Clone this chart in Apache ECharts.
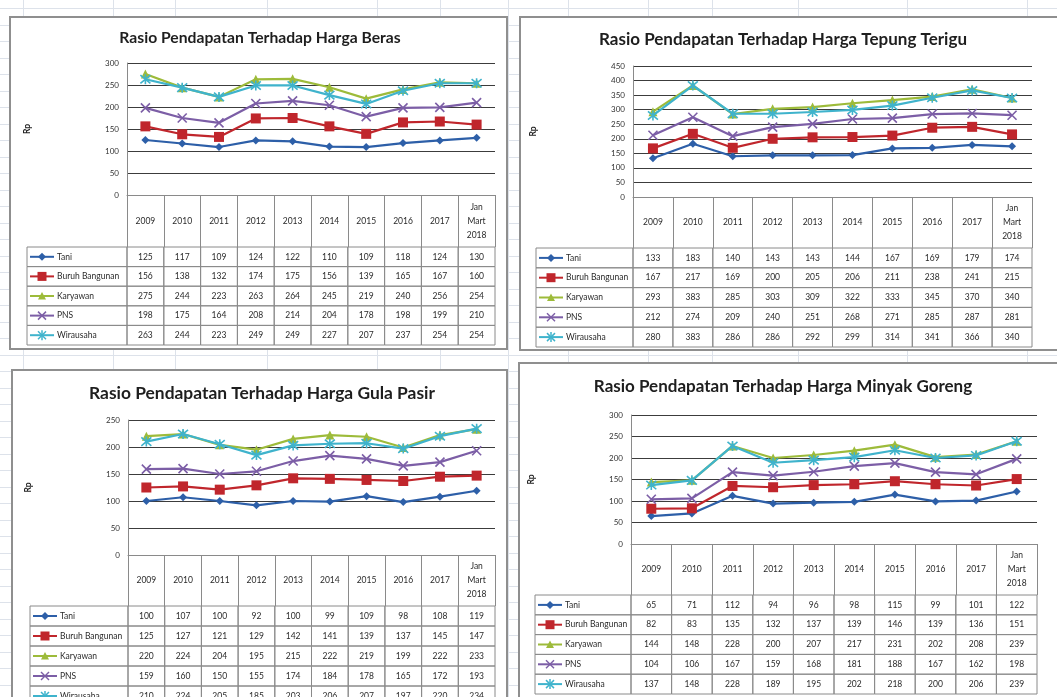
<!DOCTYPE html>
<html><head><meta charset="utf-8">
<script src="https://cdn.jsdelivr.net/npm/echarts@6/dist/echarts.min.js"></script>
<style>
html,body{margin:0;padding:0;background:#fff;overflow:hidden;}
#bg{position:absolute;left:0;top:0;width:1057px;height:697px;overflow:hidden;}
#chart{position:absolute;left:0;top:0;width:1057px;height:697px;}
.hl{position:absolute;left:0;width:1057px;height:1px;background:#dde2ea;}
.vl{position:absolute;top:0;height:697px;width:1px;background:#dde2ea;}
</style></head><body>
<div id="bg"></div>
<div id="chart"></div>
<script>
// ---------- DATA ----------
const categories = ['2009','2010','2011','2012','2013','2014','2015','2016','2017','Jan\nMart\n2018'];
const seriesNames = ['Tani','Buruh Bangunan','Karyawan','PNS','Wirausaha'];

const titleBeras = 'Rasio Pendapatan Terhadap Harga Beras';
const berasTani      = [125,117,109,124,122,110,109,118,124,130];
const berasBuruh     = [156,138,132,174,175,156,139,165,167,160];
const berasKaryawan  = [275,244,223,263,264,245,219,240,256,254];
const berasPNS       = [198,175,164,208,214,204,178,198,199,210];
const berasWirausaha = [263,244,223,249,249,227,207,237,254,254];

const titleTepung = 'Rasio Pendapatan Terhadap Harga Tepung Terigu';
const tepungTani      = [133,183,140,143,143,144,167,169,179,174];
const tepungBuruh     = [167,217,169,200,205,206,211,238,241,215];
const tepungKaryawan  = [293,383,285,303,309,322,333,345,370,340];
const tepungPNS       = [212,274,209,240,251,268,271,285,287,281];
const tepungWirausaha = [280,383,286,286,292,299,314,341,366,340];

const titleGula = 'Rasio Pendapatan Terhadap Harga Gula Pasir';
const gulaTani      = [100,107,100,92,100,99,109,98,108,119];
const gulaBuruh     = [125,127,121,129,142,141,139,137,145,147];
const gulaKaryawan  = [220,224,204,195,215,222,219,199,222,233];
const gulaPNS       = [159,160,150,155,174,184,178,165,172,193];
const gulaWirausaha = [210,224,205,185,203,206,207,197,220,234];

const titleMinyak = 'Rasio Pendapatan Terhadap Harga Minyak Goreng';
const minyakTani      = [65,71,112,94,96,98,115,99,101,122];
const minyakBuruh     = [82,83,135,132,137,139,146,139,136,151];
const minyakKaryawan  = [144,148,228,200,207,217,231,202,208,239];
const minyakPNS       = [104,106,167,159,168,181,188,167,162,198];
const minyakWirausaha = [137,148,228,189,195,202,218,200,206,239];

const yMaxBeras = 300, yMaxTepung = 450, yMaxGula = 250, yMaxMinyak = 300;
const yInterval = 50;
const yAxisName = 'Rp';

// ---------- STYLE / LAYOUT ----------
const FONT = 'Lato, "Open Sans", sans-serif';
const colors = ['#2d5fa8','#c0262c','#9dbb3a','#7c5ea6','#3fb3cc'];
const symbols = ['diamond','rect','triangle','path://M0,0L10,10M10,0L0,10','path://M0,1L10,11M10,1L0,11M5,0L5,12'];
const symSizes = [8,10,9,9,10];

const panels = [
  {title:titleBeras, yMax:yMaxBeras, data:[berasTani,berasBuruh,berasKaryawan,berasPNS,berasWirausaha],
   box:[10,17,497,332], titleXY:[260,38], titleSize:15.7,
   plot:[127,63,368,132], header:52, tableH:98, legW:100},
  {title:titleTepung, yMax:yMaxTepung, data:[tepungTani,tepungBuruh,tepungKaryawan,tepungPNS,tepungWirausaha],
   box:[520,17,560,333], titleXY:[783,40], titleSize:17,
   plot:[633,66,399,131], header:51, tableH:99, legW:97},
  {title:titleGula, yMax:yMaxGula, data:[gulaTani,gulaBuruh,gulaKaryawan,gulaPNS,gulaWirausaha],
   box:[12,370,495,345], titleXY:[262,393], titleSize:17.4,
   plot:[128,420,367,135], header:51, tableH:100, legW:98},
  {title:titleMinyak, yMax:yMaxMinyak, data:[minyakTani,minyakBuruh,minyakKaryawan,minyakPNS,minyakWirausaha],
   box:[519,363,560,345], titleXY:[783,387], titleSize:17,
   plot:[631,415,406,129], header:51, tableH:99, legW:96}
];

// spreadsheet background lines
(function(){
  const bg = document.getElementById('bg');
  for (let y = 8; y < 697; y += 16.5) { const d = document.createElement('div'); d.className='hl'; d.style.top = Math.round(y)+'px'; bg.appendChild(d); }
  [23,113,175,267,377,440,508,568,648,712,798,907,1027].forEach(x => { const d = document.createElement('div'); d.className='vl'; d.style.left = x+'px'; bg.appendChild(d); });
})();

function legendMarker(i, cx, cy, c) {
  switch (i) {
    case 0: return {type:'polygon', shape:{points:[[cx,cy-4],[cx+4,cy],[cx,cy+4],[cx-4,cy]]}, style:{fill:c}};
    case 1: return {type:'rect', shape:{x:cx-4.5,y:cy-4.5,width:9,height:9}, style:{fill:c}};
    case 2: return {type:'polygon', shape:{points:[[cx,cy-4],[cx+4,cy+3.5],[cx-4,cy+3.5]]}, style:{fill:c}};
    case 3: return {type:'group', children:[
      {type:'line', shape:{x1:cx-4,y1:cy-4,x2:cx+4,y2:cy+4}, style:{stroke:c,lineWidth:1.5}},
      {type:'line', shape:{x1:cx+4,y1:cy-4,x2:cx-4,y2:cy+4}, style:{stroke:c,lineWidth:1.5}}]};
    default: return {type:'group', children:[
      {type:'line', shape:{x1:cx-4,y1:cy-4,x2:cx+4,y2:cy+4}, style:{stroke:c,lineWidth:1.5}},
      {type:'line', shape:{x1:cx+4,y1:cy-4,x2:cx-4,y2:cy+4}, style:{stroke:c,lineWidth:1.5}},
      {type:'line', shape:{x1:cx,y1:cy-5,x2:cx,y2:cy+5}, style:{stroke:c,lineWidth:1.5}}]};
  }
}

function makeRender(legW) {
  return function(params, api) {
    const col = api.value(0), row = api.value(1), v = api.value(2), kind = api.value(3);
    const pt = api.coord([col, row]);
    const sz = api.size([1, 1]);
    const w = sz[0], h = sz[1];
    const x = pt[0] - w / 2, y = pt[1] - h / 2;
    if (kind === 0) {
      return {type:'group', children:[
        {type:'rect', shape:{x:x,y:y,width:w,height:h}, style:{fill:null, stroke:'#8a8a8a', lineWidth:1}},
        {type:'text', style:{text:String(v), x:pt[0], y:pt[1], align:'center', verticalAlign:'middle', fill:'#2a2a2a', fontSize:8.5, fontFamily:FONT}}
      ]};
    }
    const x0 = x - legW;
    const c = colors[row];
    return {type:'group', children:[
      {type:'rect', shape:{x:x0,y:y,width:legW,height:h}, style:{fill:null, stroke:'#8a8a8a', lineWidth:1}},
      {type:'line', shape:{x1:x0+3,y1:pt[1],x2:x0+27,y2:pt[1]}, style:{stroke:c, lineWidth:2}},
      legendMarker(row, x0+15, pt[1], c),
      {type:'text', style:{text:seriesNames[row], x:x0+30, y:pt[1], align:'left', verticalAlign:'middle', fill:'#2a2a2a', fontSize:8.5, fontFamily:FONT}}
    ]};
  };
}

const option = {animation:false, grid:[], xAxis:[], yAxis:[], series:[], graphic:[]};

panels.forEach((p, pi) => {
  const [pl, pt, pw, ph] = p.plot;
  option.grid.push({left:pl, top:pt, width:pw, height:ph, containLabel:false, outerBoundsMode:'none'});
  option.grid.push({left:pl, top:pt+ph+p.header, width:pw, height:p.tableH, containLabel:false, outerBoundsMode:'none'});
  const gi = pi * 2;
  option.xAxis.push({
    type:'category', gridIndex:gi, data:categories, boundaryGap:true,
    axisLine:{show:true, lineStyle:{color:'#8a8a8a', width:1}},
    axisTick:{show:true, interval:0, length:p.header, lineStyle:{color:'#8a8a8a', width:1}},
    axisLabel:{interval:0, fontSize:8.5, lineHeight:14, color:'#2a2a2a', fontFamily:FONT, verticalAlign:'middle', margin:p.header/2},
    splitLine:{show:false}
  });
  option.xAxis.push({type:'category', gridIndex:gi+1, data:categories, show:false});
  option.yAxis.push({
    type:'value', gridIndex:gi, min:0, max:p.yMax, interval:yInterval,
    name:yAxisName, nameLocation:'middle', nameGap:95, nameRotate:90,
    nameTextStyle:{fontSize:8.5, fontWeight:'bold', color:'#222', fontFamily:FONT},
    axisLine:{show:true, lineStyle:{color:'#8a8a8a', width:1}},
    axisTick:{show:false},
    axisLabel:{fontSize:8, color:'#333', fontFamily:FONT, margin:8},
    splitLine:{show:true, lineStyle:{color:'#3c3c3c', width:1.2}}
  });
  option.yAxis.push({type:'category', gridIndex:gi+1, data:seriesNames, inverse:true, show:false});

  p.data.forEach((vals, si) => {
    option.series.push({
      type:'line', name:seriesNames[si], xAxisIndex:gi, yAxisIndex:gi, data:vals,
      symbol:symbols[si], symbolSize:symSizes[si], showAllSymbol:true,
      lineStyle:{color:colors[si], width:2.2},
      itemStyle:{color:colors[si], borderColor:colors[si], borderWidth:(si>=3?1.6:0)},
      z:3+si, silent:true
    });
  });

  const tdata = [];
  p.data.forEach((vals, r) => {
    vals.forEach((v, c) => tdata.push([c, r, v, 0]));
    tdata.push([0, r, 0, 1]);
  });
  option.series.push({
    type:'custom', xAxisIndex:gi+1, yAxisIndex:gi+1, data:tdata, clip:false,
    encode:{x:0, y:1}, renderItem:makeRender(p.legW), silent:true, z:2
  });

  const [bx, by, bw, bh] = p.box;
  option.graphic.push({type:'rect', z:-10, silent:true, shape:{x:bx,y:by,width:bw,height:bh},
    style:{fill:'#fff', stroke:'#8f8f8f', lineWidth:2}});
  option.graphic.push({type:'text', z:50, silent:true, x:p.titleXY[0], y:p.titleXY[1],
    style:{text:p.title, align:'center', verticalAlign:'middle', fill:'#1e1e1e', fontSize:p.titleSize, fontWeight:'bold', fontFamily:FONT}});
});

const chart = echarts.init(document.getElementById('chart'), null, {renderer:'canvas'});
chart.setOption(option);
</script>
</body></html>
